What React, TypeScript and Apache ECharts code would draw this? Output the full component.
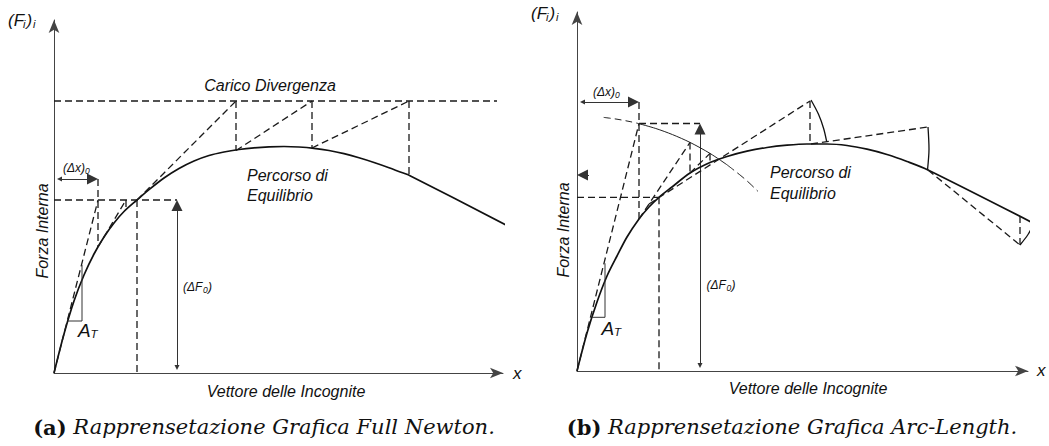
import React, { useEffect, useRef } from "react";
import * as echarts from "echarts";

// ---------- Panel (a): Full Newton (axis units = px from origin) ----------
const leftCurve = [[0,0],[10,39],[20,72],[30,98],[40,119],[50,136],[60,150],[70,161.5],[83,173],[95,183.3],[110,195],[125,204.5],[140,212],[155,217.5],[170,221],[185,223.5],[200,225.2],[215,226.2],[230,226.5],[245,226],[260,224.7],[275,222.5],[290,219.3],[305,215.2],[320,210.5],[335,205.3],[350,199.7],[356,197.3],[456,146]];
const leftLimitLoad = [[0,272],[443,272]];
const leftDashed = [
  [[0,0],[44,173]],
  [[44,194],[44,126]],
  [[44,126],[72,173]],
  [[72,173],[72,163.5]],
  [[0,173],[123,173]],
  [[83,173],[83,0]],
  [[83,173],[182,272]],
  [[182,272],[182,222.5]],
  [[182,222.5],[258,272]],
  [[258,272],[258,225]],
  [[258,225],[355,272]],
  [[355,272],[355,197.5]],
];
const leftTangentTriangle = [[14,52],[28,52],[28,108]];
const leftDims = [
  [[0,194],[44,194]],
  [[123,0],[123,173]],
];

// ---------- Panel (b): Arc-Length ----------
const rightCurve = [[0,0],[10,38],[20,69],[30,95],[40,115],[50,134],[62,152],[72,164],[82,173.7],[95,184],[113,198],[133,208.5],[150,214.5],[170,219.8],[190,223.5],[210,225.8],[230,227],[250,227],[270,225.5],[290,221.8],[310,216.5],[330,209.5],[351,201],[456,148]];
const rightDashed = [
  [[0,0],[62,247.5]],
  [[62,269],[62,152]],
  [[62,247.5],[123,247.5]],
  [[0,173.7],[82,173.7]],
  [[82,173.7],[82,0]],
  [[62,152],[113,228.6]],
  [[113,228.6],[113,198]],
  [[113,198],[133,217.6]],
  [[133,217.6],[133,208.5]],
  [[72,167],[233,270]],
  [[233,270],[233,227]],
  [[234,227],[351,244]],
  [[351,201],[443,126]],
  [[443,126],[443,155]],
];
const rightArcDashedA = [[26.7,253.6],[40,251.8],[53,249.4],[61.7,247.4]];
const rightArcSolid = [[61.7,247.4],[78.8,242.5],[95.5,236.4],[113,228.6],[133,217.6],[150,206.2]];
const rightArcDashedB = [[150,206.2],[163.9,195.3],[172,188.3],[181,179.6]];
const rightStepArcs = [
  [[234,271],[241.5,256.7],[246.7,242.3],[249.7,229.3]],
  [[351,244],[352,222],[350.5,201]],
  [[443,126],[451,136.5],[457,147.7]],
];
const rightTangentTriangle = [[14.7,53.7],[28,53.7],[28,107.7]];
const rightDims = [
  [[0,269],[62,269]],
  [[123,0],[123,247.5]],
];
const rightSmallArrow = [[12,196],[0,196]];

const FONT = "'Liberation Sans', Arial, sans-serif";
const SERIF = "'DejaVu Serif', serif";
const ARROW_LEN = 11;

function lineSeries(grid: number, data: number[][], style: any, smooth: any = false) {
  return {
    type: "line",
    xAxisIndex: grid,
    yAxisIndex: grid,
    data,
    showSymbol: false,
    symbol: "none",
    smooth,
    clip: false,
    silent: true,
    lineStyle: style,
  };
}

function inset(seg: number[][], both: boolean) {
  const [a, b] = seg;
  const dx = b[0] - a[0], dy = b[1] - a[1];
  const L = Math.hypot(dx, dy);
  const ux = dx / L, uy = dy / L;
  const h = ARROW_LEN / 2;
  const s = both ? [a[0] + ux * h, a[1] + uy * h] : a;
  const e = [b[0] - ux * h, b[1] - uy * h];
  return [s, e];
}

function dimSeries(grid: number, segs: number[][][], both = true) {
  return {
    type: "lines",
    coordinateSystem: "cartesian2d",
    xAxisIndex: grid,
    yAxisIndex: grid,
    symbol: both ? ["triangle", "triangle"] : ["none", "triangle"],
    symbolSize: [5, ARROW_LEN],
    silent: true,
    lineStyle: { color: "#333", width: 1, opacity: 1, type: "solid" },
    itemStyle: { color: "#111" },
    data: segs.map((s) => ({ coords: inset(s, both) })),
  };
}

function txt(x: number, y: number, text: string, o: any = {}) {
  return {
    type: "text",
    x,
    y,
    silent: true,
    rotation: o.rotation || 0,
    style: {
      text,
      fill: "#111",
      fontSize: o.size || 16,
      fontFamily: o.family || FONT,
      fontStyle: o.fstyle || "italic",
      fontWeight: o.weight || "normal",
      align: o.align || "left",
      textAlign: o.align || "left",
      verticalAlign: "middle",
      textVerticalAlign: "middle",
      rich: o.rich,
    },
  };
}

export default function App() {
  const ref = useRef<HTMLDivElement>(null);
  useEffect(() => {
    if (!ref.current) return;
    const chart = echarts.init(ref.current, null, { renderer: "svg" });
    const grids = [
      { left: 54, top: 20, width: 449, height: 353 },
      { left: 577, top: 12, width: 451, height: 359 },
    ];
    const axisCommon = {
      type: "value",
      min: 0,
      axisTick: { show: false },
      axisLabel: { show: false },
      splitLine: { show: false },
    };
    const axLine = {
      show: true,
      onZero: false,
      symbol: ["none", "arrow"],
      symbolSize: [8, 13],
      lineStyle: { color: "#444", width: 1 },
    };
    const dashed = { color: "#1a1a1a", width: 1.3, type: [7, 4] };
    const curve = { color: "#111", width: 1.7 };
    const thin = { color: "#333", width: 1 };
    const arcThin = { color: "#222", width: 1 };

    const series: any[] = [];
    // left
    series.push(lineSeries(0, leftCurve, curve, 0.3));
    series.push(lineSeries(0, leftLimitLoad, dashed));
    leftDashed.forEach((d) => series.push(lineSeries(0, d, dashed)));
    series.push(lineSeries(0, leftTangentTriangle, thin));
    series.push(dimSeries(0, leftDims));
    // right
    series.push(lineSeries(1, rightCurve, curve, 0.3));
    rightDashed.forEach((d) => series.push(lineSeries(1, d, dashed)));
    series.push(lineSeries(1, rightArcDashedA, { color: "#222", width: 1, type: [7, 4] }, 0.3));
    series.push(lineSeries(1, rightArcSolid, arcThin, 0.3));
    series.push(lineSeries(1, rightArcDashedB, { color: "#222", width: 1, type: [9, 4] }, 0.3));
    rightStepArcs.forEach((d) => series.push(lineSeries(1, d, { color: "#111", width: 1.3 }, 0.3)));
    series.push(lineSeries(1, rightTangentTriangle, thin));
    series.push(dimSeries(1, rightDims));
    series.push(dimSeries(1, [rightSmallArrow], false));

    const capRich = (size: number) => ({
      b: { fontFamily: SERIF, fontWeight: "bold", fontStyle: "normal", fontSize: size, fill: "#111" },
      i: { fontFamily: SERIF, fontStyle: "italic", fontSize: size, fill: "#111" },
    });

    const graphic: any[] = [
      // left texts
      txt(8, 20, "(F", { size: 17 }),
      txt(23, 24, "i", { size: 11 }),
      txt(26.5, 20, ")", { size: 17 }),
      txt(33, 24, "i", { size: 11 }),
      txt(270, 85, "Carico Divergenza", { align: "center" }),
      txt(247, 175, "Percorso di"),
      txt(247, 195, "Equilibrio"),
      txt(63, 168, "(Δx)", { size: 12 }),
      txt(85, 171, "0", { size: 8.5 }),
      txt(183, 287, "(ΔF", { size: 12 }),
      txt(203, 290, "0", { size: 8.5 }),
      txt(208, 287, ")", { size: 12 }),
      txt(78, 330, "A", { size: 19 }),
      txt(90.5, 334, "T", { size: 11.5 }),
      txt(42, 231, "Forza Interna", { align: "center", rotation: Math.PI / 2 }),
      txt(513, 373, "x", { size: 17 }),
      txt(286, 391, "Vettore delle Incognite", { align: "center" }),
      txt(264, 427, "{b|(a)} {i|Rapprensetazione Grafica Full Newton.}", { align: "center", rich: capRich(21), size: 21, family: SERIF }),
      // right texts
      txt(531, 13, "(F", { size: 17 }),
      txt(546, 17, "i", { size: 11 }),
      txt(549.5, 13, ")", { size: 17 }),
      txt(556, 17, "i", { size: 11 }),
      txt(593, 92, "(Δx)", { size: 12 }),
      txt(615, 95, "0", { size: 8.5 }),
      txt(770, 172, "Percorso di"),
      txt(770, 193, "Equilibrio"),
      txt(706.5, 285, "(ΔF", { size: 12 }),
      txt(726.5, 288, "0", { size: 8.5 }),
      txt(731.5, 285, ")", { size: 12 }),
      txt(601.5, 328, "A", { size: 19 }),
      txt(614, 332, "T", { size: 11.5 }),
      txt(563, 230, "Forza Interna", { align: "center", rotation: Math.PI / 2 }),
      txt(1037, 370, "x", { size: 17 }),
      txt(808, 388, "Vettore delle Incognite", { align: "center" }),
      txt(792, 427, "{b|(b)} {i|Rapprensetazione Grafica Arc-Length.}", { align: "center", rich: capRich(21), size: 21, family: SERIF }),
    ];

    chart.setOption({
      animation: false,
      backgroundColor: "#ffffff",
      grid: grids,
      xAxis: grids.map((g, i) => ({ ...axisCommon, gridIndex: i, max: g.width, axisLine: axLine })),
      yAxis: grids.map((g, i) => ({ ...axisCommon, gridIndex: i, max: g.height, axisLine: axLine })),
      series,
      graphic,
    });
    return () => chart.dispose();
  }, []);
  return (
    <div
      ref={ref}
      style={{ position: "fixed", left: 0, top: 0, width: 1049, height: 446, background: "#fff" }}
    />
  );
}
